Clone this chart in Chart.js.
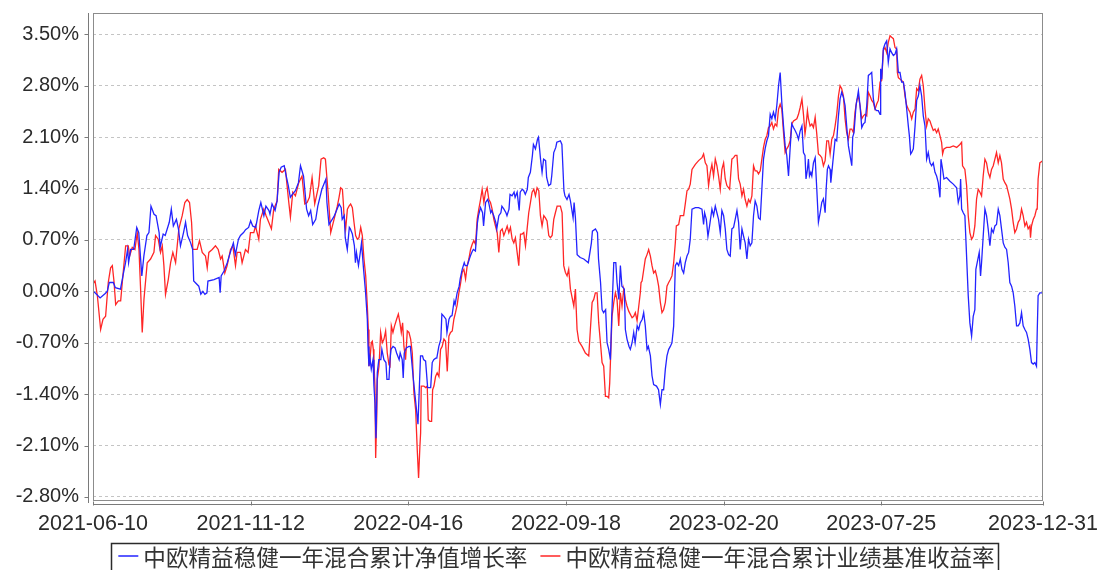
<!DOCTYPE html>
<html>
<head>
<meta charset="utf-8">
<script src="https://cdn.jsdelivr.net/npm/chart.js@4.4.1/dist/chart.umd.min.js"></script>
<style>
html,body{margin:0;padding:0;background:#fff;overflow:hidden}
canvas{display:block}
</style>
</head>
<body>
<canvas id="c" width="1098" height="570"></canvas>
<script>
// ---------- data ----------
const seriesNames = ['中欧精益稳健一年混合累计净值增长率', '中欧精益稳健一年混合累计业绩基准收益率'];
const tickDates = ['2021-06-10', '2021-11-12', '2022-04-16', '2022-09-18', '2023-02-20', '2023-07-25', '2023-12-31'];
const yTickValues = [-2.8, -2.1, -1.4, -0.7, 0, 0.7, 1.4, 2.1, 2.8, 3.5];

// [days since 2021-06-10, cumulative return %]
const fundReturn = [
[0,0.00],[2,-0.02],[7,-0.09],[12,-0.03],[14,0.00],[16,0.12],[20,0.12],[22,0.05],[27,0.03],[30,0.25],
[32,0.39],[34,0.57],[35,0.39],[37,0.57],[40,0.57],[43,0.87],[45,0.80],[48,0.21],[50,0.48],[53,0.76],
[55,0.80],[57,1.16],[60,1.05],[62,1.03],[65,0.80],[66,0.60],[69,0.78],[71,0.76],[75,0.94],[77,1.12],
[79,0.89],[82,0.98],[84,0.85],[86,0.62],[89,0.80],[91,0.94],[93,0.76],[96,0.66],[98,0.57],[99,0.14],
[104,0.07],[106,-0.04],[108,0.00],[110,-0.04],[112,-0.02],[113,0.14],[119,0.16],[124,0.19],[125,-0.02],[126,0.21],
[129,0.28],[132,0.39],[135,0.53],[138,0.66],[140,0.50],[143,0.71],[145,0.76],[148,0.80],[150,0.84],[153,0.87],
[155,0.96],[157,0.89],[160,0.87],[163,1.10],[165,1.21],[168,1.03],[170,1.16],[173,1.10],[174,1.05],[176,1.19],
[179,1.10],[181,1.23],[183,1.62],[185,1.69],[188,1.71],[190,1.57],[192,1.44],[194,1.28],[196,1.32],[199,1.37],
[202,1.48],[204,1.71],[207,1.57],[210,1.12],[212,1.03],[214,1.10],[216,0.91],[219,0.98],[221,1.16],[225,1.39],
[229,1.53],[230,1.21],[232,0.91],[237,1.02],[240,1.12],[242,1.19],[244,1.14],[245,0.98],[247,1.03],[248,0.73],
[250,0.57],[252,0.87],[253,0.85],[255,0.78],[257,0.62],[258,0.39],[259,0.53],[261,0.35],[263,0.55],[264,0.66],
[266,0.30],[268,-0.02],[269.7,-0.38],[270.4,-0.75],[271.3,-1.02],[272.3,-0.91],[273.6,-1.06],[275.3,-0.93],[276.2,-1.29],[277.2,-1.52],
[278.2,-2.00],[279.5,-1.11],[281,-0.93],[283,-0.93],[284,-0.79],[286,-0.93],[288,-0.97],[289,-1.20],[291,-1.20],[292,-0.93],
[293,-0.79],[295,-0.75],[297,-0.77],[298.5,-0.84],[301,-0.93],[302,-0.84],[304,-0.93],[305,-1.18],[306,-0.84],[308,-0.77],
[310.6,-0.75],[312,-0.75],[315,-1.20],[317,-1.47],[319.5,-1.81],[322,-0.88],[324,-0.88],[325,-0.93],[327,-0.95],[329,-1.31],
[332,-1.31],[333.5,-0.97],[335,-0.93],[337,-0.91],[338,-0.91],[340,-0.75],[342,-0.65],[343,-0.31],[345,-0.34],[347,-0.38],
[348,-0.56],[350,-0.38],[351.5,-0.34],[353,-0.33],[355,-0.13],[356,-0.18],[358,-0.02],[360,0.07],[361,0.17],[363,0.30],
[365,0.39],[366,0.35],[368,0.35],[370,0.44],[371,0.48],[373,0.55],[374,0.57],[376,0.55],[378,0.94],[379,1.03],
[381,1.14],[383,1.07],[384,0.89],[386,1.21],[388,1.25],[389,1.21],[391,1.07],[392,1.10],[394,1.03],[396,0.94],
[397,0.85],[399,1.03],[401,1.07],[402,1.16],[404,1.12],[406,1.07],[407,1.03],[409,1.12],[410,1.32],[412,1.30],
[414,1.35],[415,1.28],[417,1.35],[419,1.10],[420,1.35],[422,1.39],[423.5,1.37],[425,1.32],[427,1.39],[428,1.55],
[430,1.62],[432,1.85],[433,2.00],[435,1.94],[437,2.07],[438,2.10],[440,1.80],[441.5,1.62],[443,1.80],[445,1.78],
[446,1.55],[448,1.44],[450,1.46],[451,1.57],[453,1.89],[455,1.96],[456,2.03],[459.5,2.05],[461,2.00],[463,1.37],
[464,1.30],[466,1.25],[468,1.32],[469.4,1.23],[472,1.00],[473,1.21],[474.3,1.00],[476,0.50],[479,0.46],[482.5,0.44],
[487,0.39],[490,0.66],[491,0.82],[494,0.85],[496,0.80],[497,0.44],[499,0.12],[500.5,-0.25],[502,-0.29],[504,-0.25],
[505.4,-0.70],[507,-0.79],[508.7,-0.93],[510,-0.34],[512,0.39],[514,0.39],[515.2,0.12],[517,-0.11],[518.5,0.35],[520,0.07],
[522.4,0.03],[523.4,-0.52],[525,-0.65],[527,-0.75],[528.3,-0.79],[530,-0.70],[531.6,-0.56],[533,-0.70],[535,-0.47],[536.5,-0.52],
[538,-0.43],[540,-0.38],[541.4,-0.29],[543,-0.47],[544.7,-0.79],[546,-0.75],[548,-0.88],[549.6,-1.15],[551.2,-1.27],[554,-1.29],
[556,-1.34],[557.8,-1.54],[559.4,-1.34],[561,-1.34],[562.7,-1.06],[564.3,-0.88],[566,-0.79],[567.6,-0.75],[569.2,-0.70],[570.9,-0.47],
[572.5,0.35],[574.1,0.39],[575.8,0.35],[577.4,0.44],[579,0.30],[580.7,0.25],[582.3,0.39],[584,0.48],[585.6,0.53],[587.2,0.71],
[588.9,1.12],[592.2,1.14],[595.4,1.14],[598.7,1.12],[600.3,0.91],[601.3,1.07],[603,0.98],[604.6,0.75],[606.2,0.89],[608.5,1.12],
[610.1,1.03],[611.8,1.16],[613.4,1.07],[615,0.98],[616.7,0.80],[618.3,1.10],[620,1.03],[621.6,0.85],[623.2,0.57],[624.9,0.50],
[626.5,0.48],[628.1,0.85],[629.8,0.87],[631.4,0.98],[633.1,1.10],[634.7,0.94],[636.3,0.57],[638,0.85],[639.6,0.75],[641.2,0.66],
[642.9,0.44],[644.5,0.71],[646.1,0.62],[647.8,0.66],[649.4,1.03],[651,1.23],[652.7,1.16],[654.3,1.00],[656,0.98],[657.6,1.39],
[659.2,1.80],[660.9,1.95],[662.5,2.05],[664.1,2.12],[665.8,2.41],[667.4,2.35],[669,2.44],[670.7,2.35],[672.3,2.53],[674,2.80],
[675.6,2.98],[677.2,2.57],[678.9,2.25],[680.5,1.98],[682.1,1.85],[683.8,1.57],[685.4,1.95],[687,2.28],[688.7,2.23],[690.3,2.19],
[692,2.14],[693.6,2.07],[695.2,2.18],[697,2.25],[698.5,1.89],[700,1.85],[701,1.53],[702.4,1.66],[703.4,1.80],[704.4,1.57],
[705.7,1.62],[706.7,1.57],[708.3,1.75],[710,1.82],[711.6,1.39],[713.2,0.94],[714.9,1.07],[716.5,1.21],[718.1,1.26],[719.8,1.07],
[720.8,1.39],[722,1.66],[723.1,1.71],[724.7,1.66],[725.4,1.48],[727.3,1.75],[729.6,2.07],[731.2,2.05],[732.9,2.39],[734.5,2.62],
[736.1,2.71],[737.8,2.64],[739.4,2.53],[741,2.25],[742.7,1.98],[744.3,1.85],[746,1.71],[746.9,2.10],[748.2,2.16],[750.2,2.53],
[752.5,2.73],[754.1,2.53],[755.8,2.23],[757.4,2.28],[759,2.30],[760.7,2.53],[762.3,2.94],[764,2.96],[765.6,2.98],[767.2,2.62],
[768.9,2.48],[770.5,2.46],[772.1,2.46],[773.8,2.41],[774.4,3.03],[775.4,2.89],[777,3.30],[778.7,3.37],[780.3,3.41],[781.9,3.12],
[783.6,3.30],[785.2,3.25],[786.9,3.21],[788.5,3.23],[790.1,3.30],[791.8,2.98],[793.4,2.98],[795,2.85],[796.7,2.85],[798.3,2.71],
[800,2.48],[801.6,2.25],[802.6,2.12],[803.9,1.87],[804.9,1.89],[806.5,1.94],[808.2,2.25],[809.8,2.60],[811.4,2.66],[813,2.80],
[814.7,2.66],[816.3,2.39],[818,2.25],[819.6,1.80],[821.2,1.89],[822.9,1.75],[824.5,1.71],[826.1,1.75],[827.8,1.62],[829.4,1.57],
[831,1.48],[832.7,1.28],[833.7,1.80],[835.3,1.66],[836.6,1.53],[839.2,1.55],[842.5,1.50],[845.8,1.46],[849.1,1.41],[850.7,1.21],
[852.3,1.30],[853,1.53],[854,1.12],[855.6,1.07],[857.2,1.03],[860.5,-0.06],[862.1,-0.43],[863.8,-0.61],[865.4,-0.34],[867,-0.25],
[868,0.30],[869.3,0.39],[871.3,0.53],[872.6,0.21],[873.6,0.39],[875.2,0.75],[876.9,1.12],[878.5,1.03],[880.1,0.85],[881.8,0.62],
[883.4,0.85],[885.1,0.80],[886.7,0.89],[888.3,0.91],[890,1.12],[891.6,1.03],[893.2,0.85],[894.9,0.66],[896.5,0.60],[898.2,0.57],
[899.8,0.39],[901.4,0.12],[903.1,0.07],[904.7,-0.02],[906.3,-0.20],[908,-0.47],[909.6,-0.47],[911.3,-0.43],[912.9,-0.29],[914.5,-0.47],
[916.2,-0.52],[917.8,-0.56],[919.4,-0.65],[921.1,-0.79],[922.7,-0.97],[924.4,-0.99],[926,-0.97],[927.6,-1.02],[928.3,-0.56],[929.2,-0.06],
[930.9,-0.02],[934,-0.02]
];

const benchReturn = [
[0,0.10],[2,0.14],[4.3,-0.06],[7.5,-0.52],[9.8,-0.38],[12.4,-0.34],[15,0.12],[17.3,0.32],[19,0.35],[20.6,0.14],
[22.3,-0.18],[24.9,-0.13],[27.2,-0.13],[28.8,0.12],[32.1,0.62],[34.7,0.62],[36,0.48],[38.6,0.60],[41.2,0.57],[43.5,0.80],
[45.2,0.57],[46.8,0.03],[48.4,-0.56],[50.1,-0.11],[53.3,0.39],[56.6,0.44],[59.9,0.53],[61.5,0.76],[64.1,0.71],[66.4,0.53],
[68.1,0.62],[69.7,0.35],[71.3,-0.04],[74,0.16],[76.3,0.39],[78.5,0.53],[81.2,0.39],[82.8,0.62],[84.4,0.85],[87.7,1.03],
[90.3,1.21],[92.6,1.25],[94.9,1.21],[96.9,0.94],[98.2,0.57],[102.4,0.57],[104.7,0.69],[107.4,0.53],[110.6,0.48],[112.3,0.32],
[113.9,0.53],[117.2,0.57],[120.4,0.62],[123.1,0.57],[125.4,0.44],[127,0.48],[129.6,0.25],[131.9,0.35],[135.2,0.57],[137.5,0.62],
[140.1,0.35],[141.7,0.53],[145,0.53],[146.6,0.39],[149.9,0.57],[152.5,0.53],[154.8,0.80],[158.1,0.80],[159.7,0.89],[163,0.71],
[164.6,0.98],[167.9,1.12],[170.2,1.03],[172.8,0.94],[175.4,0.85],[177.7,1.12],[181,1.23],[182.6,1.66],[185.9,1.62],[189.2,1.66],
[192.5,1.21],[194.1,1.01],[196.4,1.35],[199,1.30],[202.3,1.48],[205.5,1.57],[208.2,1.19],[210.5,1.21],[212.8,1.28],[215.4,1.55],
[218,1.19],[221.9,1.44],[224.2,1.80],[226.8,1.82],[228.5,1.80],[231.1,1.35],[233.7,0.80],[237,0.98],[240.2,1.16],[241.9,1.28],
[243.5,1.41],[245.2,1.39],[246.1,1.21],[246.8,1.03],[248.4,0.85],[250.1,1.12],[251.7,1.16],[253.3,1.19],[255,1.14],[256.6,0.94],
[258.2,0.76],[259.9,0.71],[261.5,0.73],[263.2,0.87],[264.8,0.76],[266.4,0.44],[268.1,0.21],[269.7,-0.20],[270.7,-0.52],[271.3,-1.02],
[272.3,-0.93],[273.6,-0.70],[274.6,-0.68],[275.6,-0.79],[276.2,-0.97],[277.2,-1.29],[277.9,-2.27],[278.9,-1.75],[279.5,-1.20],[281.2,-1.02],
[282.8,-0.56],[284.4,-0.70],[286.1,-0.65],[287.7,-0.54],[289.3,-0.84],[291,-1.00],[292,-1.02],[293.3,-0.47],[294.9,-0.56],[296.5,-0.47],
[298.5,-0.38],[300.2,-0.31],[301.8,-0.43],[303.1,-0.56],[304.4,-0.43],[305.7,-0.75],[307.3,-0.93],[309,-0.54],[310.6,-0.56],[312.3,-0.65],
[313.9,-0.84],[315.5,-1.38],[317.2,-1.61],[318.8,-2.16],[320.1,-2.54],[321.4,-2.11],[322.1,-1.93],[322.7,-1.29],[325.3,-1.29],[327,-1.31],
[328.6,-1.29],[329.6,-1.75],[331.2,-1.77],[332.9,-1.77],[333.9,-1.34],[335.2,-1.29],[336.8,-1.16],[338.4,-1.11],[340.1,-1.16],[341.7,-0.79],
[343.3,-0.75],[345,-0.65],[346.6,-0.68],[348.3,-1.09],[349.9,-0.61],[351.5,-0.56],[353.2,-0.54],[354.8,-0.38],[356.4,-0.29],[358.1,-0.18],
[359.7,-0.02],[361.3,0.10],[363,0.26],[364.6,0.30],[366.3,0.17],[367.9,0.35],[369.5,0.44],[371.2,0.57],[372.8,0.64],[374.4,0.69],
[376.1,0.64],[377.7,0.98],[379.3,1.12],[381,1.25],[382.6,1.39],[384.3,1.21],[385.9,1.35],[387.5,1.41],[389.2,1.25],[390.8,1.21],
[392.4,1.12],[394.1,0.98],[395.7,0.89],[397.4,0.80],[399,0.53],[400.6,0.82],[402.3,0.85],[403.9,0.76],[405.5,0.82],[407.2,0.89],
[408.8,0.80],[410.4,0.87],[412.1,0.71],[413.7,0.66],[415.3,0.73],[417,0.53],[418.6,0.35],[420.3,0.78],[421.9,0.78],[423.5,0.80],
[425.2,0.62],[426.8,0.85],[428.4,1.07],[430.1,1.21],[431.7,1.35],[433.4,1.39],[435,1.30],[436.6,1.41],[438.3,1.37],[439.9,1.03],
[441.5,0.89],[443.2,1.03],[444.8,1.00],[446.4,0.96],[448.1,0.76],[449.7,0.73],[451.4,0.76],[453,0.98],[454.6,1.07],[456.3,1.16],
[459.5,1.16],[461.2,1.07],[462.8,0.35],[464.4,0.26],[466.1,0.21],[467.7,0.30],[469.4,0.03],[472.7,-0.20],[474.3,0.03],[475.9,-0.52],
[477.6,-0.68],[480.8,-0.75],[484.1,-0.84],[487.4,-0.88],[489,-0.52],[490.7,-0.15],[492.3,-0.11],[493.9,-0.02],[495.6,-0.02],[497.2,-0.43],
[498.9,-0.70],[500.5,-0.97],[502.1,-1.02],[503.8,-1.43],[505.4,-1.43],[507,-1.45],[508,-1.25],[508.7,-0.97],[510.3,-0.34],[512,-0.15],
[513.6,-0.02],[515.2,-0.11],[516.9,-0.47],[518.5,-0.02],[520.1,-0.20],[521.8,0.03],[523.4,-0.11],[525,-0.20],[526.7,-0.27],[530,-0.36],
[531.6,-0.34],[533.2,-0.29],[534.9,-0.40],[538.1,-0.02],[538.8,0.12],[539.8,0.14],[543,0.44],[544.7,0.50],[546.3,0.57],[548,0.48],
[549.6,0.35],[551.2,0.25],[552.9,0.28],[554.5,0.19],[556.1,0.07],[557.8,-0.15],[559.4,-0.29],[561,-0.25],[562.7,-0.15],[564.3,0.07],
[566,0.12],[567.6,0.16],[569.2,0.21],[570.9,0.39],[572.5,0.66],[573.5,0.89],[575.8,0.91],[577.4,1.03],[580.7,1.03],[582.3,1.19],
[584,1.37],[585.6,1.39],[587.2,1.46],[588.9,1.66],[592.2,1.73],[595.4,1.78],[598.7,1.82],[600.3,1.87],[602,1.75],[603.6,1.71],
[605.2,1.44],[606.9,1.62],[608.5,1.73],[610.1,1.57],[611.8,1.80],[613.4,1.71],[615,1.57],[616.7,1.39],[618.3,1.66],[620,1.75],
[621.6,1.53],[623.2,1.44],[625.9,1.39],[628.1,1.80],[629.8,1.82],[631.4,1.85],[633.1,1.85],[634.7,1.53],[636.3,1.46],[638,1.30],
[639.6,1.39],[641.2,1.25],[642.9,1.16],[644.5,1.25],[646.1,1.21],[647.8,1.30],[649.4,1.71],[651,1.64],[652.7,1.64],[654.3,1.60],
[656,1.64],[657.6,1.80],[659.2,1.96],[660.9,2.07],[662.5,2.12],[664.1,2.23],[665.8,2.25],[667.4,2.30],[669,2.21],[670.7,2.28],
[672.3,2.25],[674,2.48],[675.6,2.55],[677.2,2.48],[678.9,2.16],[680.5,1.89],[682.1,1.94],[683.8,1.98],[685.4,2.05],[687,2.28],
[688.7,2.32],[692,2.35],[693.6,2.41],[695.2,2.50],[697,2.62],[698.5,2.41],[700,2.14],[701,2.25],[702.4,2.46],[703.4,2.35],
[705,2.25],[706.7,2.28],[708.3,2.23],[710,2.37],[711.6,2.14],[713.2,1.87],[714.9,1.85],[716.5,1.82],[718.1,1.71],[719.8,1.78],
[721.4,2.05],[723.1,2.05],[724.7,1.87],[726.3,2.07],[728,2.12],[729.6,2.25],[731.2,2.41],[732.9,2.66],[734.5,2.80],[736.1,2.76],
[737.8,2.66],[739.4,2.35],[741,2.16],[742.7,2.07],[744.3,2.21],[746,2.21],[747.6,2.16],[749.2,2.44],[750.9,2.60],[752.5,2.66],
[754.1,2.53],[755.8,2.35],[757.4,2.39],[759,2.41],[760.7,2.39],[762.3,2.71],[764,2.66],[765.6,2.60],[767.2,2.57],[768.9,2.48],
[770.5,2.55],[772.1,2.60],[773.8,2.85],[775.4,2.87],[777,3.28],[778.7,3.32],[780.3,3.25],[781.9,3.39],[783.6,3.48],[785.2,3.46],
[786.9,3.44],[788.5,3.32],[790.1,3.30],[790.8,2.98],[791.8,2.91],[795,2.87],[796.7,2.85],[798.3,2.66],[800,2.53],[801.6,2.48],
[803.2,2.44],[804.9,2.35],[806.5,2.44],[808.2,2.48],[809.8,2.76],[811.4,2.73],[813,2.89],[814.7,2.94],[816.3,2.80],[818,2.48],
[819.6,2.25],[821.2,2.35],[822.9,2.32],[824.5,2.25],[826.1,2.19],[827.8,2.21],[829.4,2.16],[831,2.21],[832.7,2.12],[834.3,2.03],
[835.3,1.87],[836.6,1.94],[839.2,1.96],[842.5,1.96],[845.8,1.98],[849.1,1.96],[852.3,2.00],[854,2.03],[854.9,1.71],[857.2,1.66],
[858.9,1.44],[860.5,1.03],[862.1,0.80],[863.8,0.71],[865.4,0.75],[867,0.89],[868.7,1.26],[870.3,1.39],[872,1.35],[873.6,1.30],
[875.2,1.57],[876.9,1.80],[878.5,1.75],[880.1,1.62],[881.8,1.55],[883.4,1.66],[885.1,1.71],[886.7,1.80],[888.3,1.89],[890,1.75],
[891.6,1.85],[893.2,1.75],[894.9,1.53],[896.5,1.48],[898.2,1.44],[899.8,1.35],[901.4,1.26],[903.1,1.12],[904.7,0.94],[906.3,0.80],
[908,0.85],[909.6,0.94],[911.3,0.98],[912.9,1.12],[914.5,1.03],[916.2,0.89],[917.8,0.94],[919.4,0.85],[921.1,0.89],[921.7,0.73],
[922.7,0.89],[924.4,0.98],[926,1.03],[927.6,1.12],[928.3,1.12],[929.2,1.53],[930.9,1.75],[934,1.78]
];

// ---------- helpers ----------
const DAY_MS = 86400000;
const t0 = Date.parse(tickDates[0]);
const tickDays = tickDates.map(d => Math.round((Date.parse(d) - t0) / DAY_MS));

const frameAndLegend = {
  id: 'frameAndLegend',
  afterDraw(chart) {
    const {ctx, chartArea: a, scales: {x, y}} = chart;
    ctx.save();
    // plot box
    ctx.lineWidth = 1;
    ctx.strokeStyle = '#8c8c8c';
    ctx.strokeRect(a.left + 0.5, a.top + 0.5, a.right - a.left - 1, a.bottom - a.top - 1);
    // offset y axis with ticks
    ctx.strokeStyle = '#7a7a7a';
    ctx.beginPath();
    const ax = a.left - 5 + 0.5;
    ctx.moveTo(ax, a.top); ctx.lineTo(ax, a.bottom + 2);
    y.ticks.forEach(t => {
      const py = Math.round(y.getPixelForValue(t.value)) + 0.5;
      ctx.moveTo(ax - 4, py); ctx.lineTo(ax, py);
    });
    // offset x axis with ticks
    const ay = a.bottom + 3 + 0.5;
    ctx.moveTo(a.left, ay); ctx.lineTo(a.right, ay);
    x.ticks.forEach(t => {
      const px = Math.round(x.getPixelForValue(t.value)) + 0.5;
      ctx.moveTo(px, ay - 3); ctx.lineTo(px, ay + 1);
    });
    ctx.stroke();

    // legend
    const ds = chart.data.datasets;
    ctx.font = '22.6px "Noto Sans CJK SC", "Noto Sans CJK JP", sans-serif';
    ctx.textBaseline = 'middle';
    ctx.textAlign = 'left';
    const lineLen = 20, gap = 5, sep = 13;
    const widths = ds.map(d => ctx.measureText(d.label).width);
    const total = ds.length * (lineLen + gap) + widths.reduce((s, w) => s + w, 0) + sep * (ds.length - 1);
    let cx = 556.5 - total / 2;
    const cy = 557;
    ctx.lineWidth = 1.5;
    ctx.strokeStyle = '#2b2b2b';
    ctx.strokeRect(Math.round(cx - 7) + 0.5, 543.5, Math.round(total + 11), 40);
    ds.forEach((d, i) => {
      ctx.strokeStyle = d.borderColor;
      ctx.lineWidth = 1.5;
      ctx.beginPath();
      ctx.moveTo(cx, cy - 1); ctx.lineTo(cx + lineLen, cy - 1);
      ctx.stroke();
      cx += lineLen + gap;
      ctx.fillStyle = '#333';
      ctx.fillText(d.label, cx, cy);
      cx += widths[i] + sep;
    });
    ctx.restore();
  }
};

const tickFont = {family: '"Liberation Sans", Arial, sans-serif'};

new Chart(document.getElementById('c'), {
  type: 'line',
  data: {
    datasets: [
      {
        label: seriesNames[0],
        data: fundReturn.map(p => ({x: p[0], y: p[1]})),
        borderColor: '#2323ff',
        borderWidth: 1.3,
        pointRadius: 0,
        tension: 0,
        fill: false
      },
      {
        label: seriesNames[1],
        data: benchReturn.map(p => ({x: p[0], y: p[1]})),
        borderColor: '#ff2626',
        borderWidth: 1.3,
        pointRadius: 0,
        tension: 0,
        fill: false
      }
    ]
  },
  options: {
    responsive: false,
    animation: false,
    events: [],
    layout: {padding: {left: 0, top: 13, right: 55, bottom: 0}},
    plugins: {legend: {display: false}, tooltip: {enabled: false}},
    scales: {
      x: {
        type: 'linear',
        min: tickDays[0],
        max: tickDays[tickDays.length - 1],
        afterBuildTicks: s => { s.ticks = tickDays.map(v => ({value: v})); },
        afterFit: s => { s.height = 69; s.paddingLeft = 0; s.paddingRight = 0; s.paddingTop = 0; s.paddingBottom = 0; },
        grid: {display: false, drawTicks: false},
        border: {display: false},
        ticks: {
          autoSkip: false, maxRotation: 0, minRotation: 0, padding: 10,
          color: '#2b2b2b',
          font: Object.assign({size: 21.5}, tickFont),
          callback: v => { const i = tickDays.indexOf(v); return i >= 0 ? tickDates[i] : ''; }
        }
      },
      y: {
        type: 'linear',
        min: -2.855,
        max: 3.79,
        afterBuildTicks: s => { s.ticks = yTickValues.map(v => ({value: v})); },
        afterFit: s => { s.width = 93; s.paddingLeft = 0; s.paddingRight = 0; s.paddingTop = 0; s.paddingBottom = 0; },
        grid: {color: '#c4c4c4', lineWidth: 1, drawTicks: false},
        border: {display: false, dash: [3, 3]},
        ticks: {
          padding: 14,
          color: '#2b2b2b',
          font: Object.assign({size: 20}, tickFont),
          callback: v => v.toFixed(2) + '%'
        }
      }
    }
  },
  plugins: [frameAndLegend]
});
</script>
</body>
</html>
